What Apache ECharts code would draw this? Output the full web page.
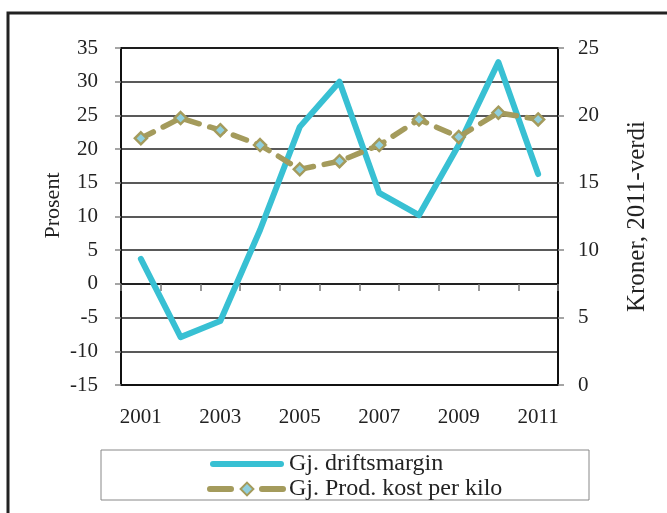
<!DOCTYPE html>
<html>
<head>
<meta charset="utf-8">
<style>
  html, body { margin: 0; padding: 0; background: #fff; }
  #chart { width: 667px; height: 513px; }
</style>
<script src="https://cdn.jsdelivr.net/npm/echarts@6/dist/echarts.min.js"></script>
</head>
<body>
<div id="chart"></div>
<script>
// år
const years = ['2001', '2002', '2003', '2004', '2005', '2006', '2007', '2008', '2009', '2010', '2011'];
// Gj. driftsmargin (prosent, venstre akse)
const driftsmargin = [3.7, -7.9, -5.5, 8.0, 23.3, 30.0, 13.5, 10.2, 20.6, 32.9, 16.3];
// Gj. Prod. kost per kilo (kroner, høyre akse)
const prodKost = [18.3, 19.8, 18.9, 17.8, 16.0, 16.6, 17.8, 19.7, 18.4, 20.2, 19.7];

const FONT = '"Liberation Serif", "DejaVu Serif", serif';
const CYAN = '#38C0D3';
const OLIVE = '#A49B5C';

const chart = echarts.init(document.getElementById('chart'));

const labelStyle = { fontFamily: FONT, fontSize: 21, color: '#222' };

const option = {
  backgroundColor: '#fff',
  animation: false,
  grid: {
    left: 121, right: 109, top: 48, bottom: 128,
    show: true,
    borderColor: '#111',
    borderWidth: 2
  },
  graphic: [
    // ytre ramme
    {
      type: 'rect',
      shape: { x: 8, y: 13, width: 700, height: 600 },
      style: { fill: 'none', stroke: '#222', lineWidth: 3 },
      silent: true
    },
    // legende-boks
    {
      type: 'rect',
      shape: { x: 101, y: 450, width: 488, height: 50 },
      style: { fill: 'none', stroke: '#888', lineWidth: 1 },
      silent: true
    }
  ],
  legend: {
    orient: 'vertical',
    left: 202,
    top: 447,
    itemWidth: 74,
    itemHeight: 16,
    itemGap: 1,
    textStyle: { fontFamily: FONT, fontSize: 24, color: '#222' },
    data: [
      {
        name: 'Gj. driftsmargin',
        icon: 'path://M3,0 L71,0 A3,3 0 0 1 71,6 L3,6 A3,3 0 0 1 3,0 Z'
      },
      {
        name: 'Gj. Prod. kost per kilo',
        lineStyle: { width: 6, type: [21, 31], cap: 'round' }
      }
    ]
  },
  xAxis: [
    {
      type: 'category',
      data: years,
      position: 'bottom',
      boundaryGap: true,
      axisLine: { onZero: false, lineStyle: { color: '#111', width: 2 } },
      axisTick: { show: false },
      axisLabel: Object.assign({ interval: 1, margin: 22 }, labelStyle),
      splitLine: { show: false }
    },
    {
      // aksen gjennom null med tikkmerker
      type: 'category',
      data: years,
      position: 'top',
      boundaryGap: true,
      axisLine: { onZero: true, onZeroAxisIndex: 0, lineStyle: { color: '#111', width: 1.5 } },
      axisTick: { show: true, inside: true, length: 7, lineStyle: { color: '#777', width: 1.5 } },
      axisLabel: { show: false },
      splitLine: { show: false }
    }
  ],
  yAxis: [
    {
      type: 'value',
      min: -15, max: 35, interval: 5,
      name: 'Prosent',
      nameLocation: 'middle',
      nameGap: 57,
      nameRotate: 90,
      nameMoveOverlap: false,
      nameTextStyle: { fontFamily: FONT, fontSize: 22, color: '#222', padding: [0, 0, 0, 22] },
      axisLine: { show: true, lineStyle: { color: '#111', width: 2 } },
      axisTick: { show: true, length: 6, lineStyle: { color: '#888', width: 1.5 } },
      axisLabel: Object.assign({ margin: 23 }, labelStyle),
      splitLine: { lineStyle: { color: '#222', width: 1.5 } }
    },
    {
      type: 'value',
      min: 0, max: 25, interval: 5,
      position: 'right',
      name: 'Kroner, 2011-verdi',
      nameLocation: 'middle',
      nameGap: 67,
      nameRotate: 90,
      nameTextStyle: { fontFamily: FONT, fontSize: 25, color: '#222' },
      axisLine: { show: true, lineStyle: { color: '#111', width: 2 } },
      axisTick: { show: true, length: 6, lineStyle: { color: '#888', width: 1.5 } },
      axisLabel: Object.assign({ margin: 20 }, labelStyle),
      splitLine: { show: false }
    }
  ],
  series: [
    {
      name: 'Gj. driftsmargin',
      type: 'line',
      xAxisIndex: 0,
      yAxisIndex: 0,
      data: driftsmargin,
      symbol: 'none',
      lineStyle: { color: CYAN, width: 6, cap: 'round', join: 'round' },
      itemStyle: { color: CYAN },
      z: 3
    },
    {
      name: 'Gj. Prod. kost per kilo',
      type: 'line',
      xAxisIndex: 0,
      yAxisIndex: 1,
      data: prodKost,
      symbol: 'diamond',
      symbolSize: 12,
      showSymbol: true,
      lineStyle: { color: OLIVE, width: 5.5, type: [14, 11], cap: 'round', join: 'round' },
      itemStyle: { color: '#8FCFDD', borderColor: OLIVE, borderWidth: 2.5 },
      z: 4
    }
  ]
};

chart.setOption(option);
</script>
</body>
</html>
